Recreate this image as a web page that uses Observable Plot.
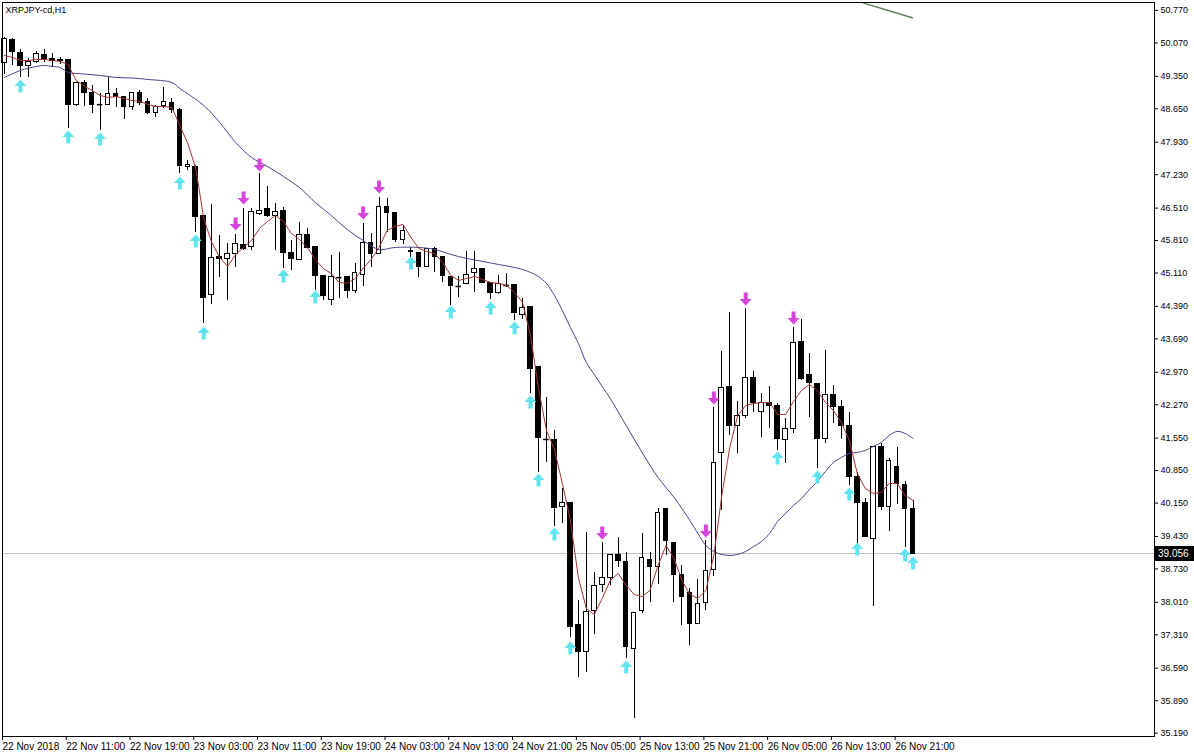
<!DOCTYPE html>
<html>
<head>
<meta charset="utf-8">
<script src="https://cdn.jsdelivr.net/npm/d3@7"></script>
<script src="https://cdn.jsdelivr.net/npm/@observablehq/plot@0.6"></script>
<style>
  html, body { margin: 0; padding: 0; background: #fff; }
  #chart svg { display: block; }
</style>
</head>
<body>
<div id="chart"></div>
<script>
// ---------- data ----------
const symbolName = "XRPJPY-cd,H1";
const currentPrice = 39.056;

const opens = [49.628,50.124,49.843,49.563,49.649,49.800,49.714,49.692,49.692,48.722,
 49.197,49.002,48.744,48.722,48.959,48.895,48.679,48.981,48.787,48.550,
 48.701,48.765,48.614,47.385,47.385,46.329,44.626,45.445,45.402,45.510,
 45.704,45.661,46.372,46.480,46.329,46.437,45.531,45.380,45.919,45.661,
 45.035,44.518,45.014,45.014,44.712,45.057,45.747,45.510,46.523,46.394,
 45.812,45.574,45.531,45.229,45.618,45.445,45.014,44.820,44.863,45.100,
 45.186,44.885,44.669,44.841,44.841,44.195,44.367,43.073,41.521,41.500,
 40.055,40.141,37.511,36.929,37.813,38.373,38.524,39.020,38.869,36.994,
 37.813,38.912,38.761,40.012,39.279,38.589,38.201,37.533,37.985,38.697,
 41.219,42.642,41.801,42.017,42.836,42.103,42.297,42.233,41.500,41.737,
 43.612,42.901,42.707,41.521,42.470,42.211,41.801,40.702,40.141,39.365,
 41.349,40.055,40.917,40.529,40.012];

const highs = [50.188,50.167,49.930,49.736,49.886,49.930,49.843,49.757,49.692,49.218,
 49.261,49.153,48.981,49.326,49.089,48.895,48.981,49.046,48.873,48.722,
 49.110,48.873,48.658,47.536,47.429,46.329,46.588,45.919,45.747,45.941,
 46.502,46.502,47.256,46.976,46.609,46.523,45.812,46.200,46.070,45.661,
 45.035,45.488,45.553,45.014,45.316,46.178,45.963,46.739,46.717,46.394,
 46.135,45.661,45.531,45.639,45.661,45.445,45.035,45.035,45.574,45.574,
 45.208,44.885,45.057,45.100,44.841,44.561,44.367,43.073,42.427,41.715,
 40.465,40.141,38.050,39.516,38.654,39.300,39.020,39.408,39.085,37.770,
 39.495,39.085,40.034,40.012,39.300,38.805,38.309,38.503,39.344,42.211,
 43.418,44.259,42.340,44.346,42.987,42.513,42.664,42.297,41.974,43.936,
 44.108,43.375,42.707,43.440,42.685,42.362,42.103,40.810,40.249,41.349,
 41.435,41.112,41.349,40.616,40.206];

const lows = [49.391,49.585,49.326,49.326,49.628,49.649,49.541,49.606,48.226,48.701,
 48.701,48.550,48.183,48.722,48.679,48.420,48.614,48.722,48.528,48.463,
 48.658,48.550,47.256,47.321,45.984,44.022,44.432,45.014,44.518,45.229,
 45.596,45.596,46.351,46.307,45.596,45.208,45.165,45.380,45.639,44.734,
 44.518,44.410,44.561,44.561,44.669,44.820,45.229,45.510,45.984,45.768,
 45.725,45.445,45.014,45.229,45.122,44.906,44.410,44.583,44.863,44.690,
 44.885,44.540,44.647,44.798,44.087,44.108,42.513,40.810,41.025,39.645,
 39.710,37.252,36.390,36.498,37.317,38.222,38.373,38.761,36.800,35.506,
 37.770,38.007,38.395,39.020,38.007,37.511,37.080,37.533,37.834,38.567,
 39.990,41.607,41.219,41.974,42.103,41.564,41.758,41.284,41.004,41.651,
 42.793,41.995,40.896,41.435,41.866,41.521,40.529,39.257,39.408,37.921,
 39.990,39.538,40.120,39.193,39.050];

const closes = [50.145,49.865,49.563,49.649,49.822,49.714,49.677,49.671,48.722,49.197,
 48.981,48.722,48.740,48.959,48.895,48.679,48.981,48.765,48.550,48.679,
 48.787,48.614,47.407,47.429,46.307,44.561,45.424,45.402,45.510,45.725,
 45.618,46.415,46.437,46.329,46.415,45.531,45.402,45.919,45.639,45.035,
 44.604,45.014,45.010,44.712,45.100,45.747,45.510,46.523,46.394,45.812,
 46.006,45.553,45.229,45.618,45.445,45.035,44.820,44.820,45.057,45.186,
 44.885,44.669,44.863,44.841,44.238,44.346,43.030,41.543,41.521,40.034,
 40.141,37.468,36.929,37.791,38.352,38.524,39.020,38.891,37.037,37.770,
 38.956,38.761,39.926,39.322,38.589,38.115,37.533,37.964,38.675,41.004,
 42.621,41.801,42.017,42.836,42.297,42.297,42.233,41.521,41.737,43.591,
 42.815,42.729,41.521,42.470,42.211,41.801,40.702,40.141,39.408,41.349,
 40.055,41.047,40.551,40.012,39.056];

// fast moving average (red), one value per bar
const fastMA = [49.800,49.757,49.692,49.692,49.714,49.714,49.692,49.671,49.600,49.261,
 49.140,49.046,48.938,48.895,48.916,48.873,48.830,48.808,48.744,48.701,
 48.701,48.679,48.291,47.903,47.364,46.286,45.768,45.445,45.251,45.510,
 45.661,45.812,46.070,46.221,46.351,46.221,45.963,45.833,45.661,45.402,
 45.208,45.100,44.906,44.885,44.992,45.208,45.402,45.661,46.027,46.113,
 46.157,45.876,45.639,45.574,45.531,45.337,45.057,44.949,44.992,45.035,
 44.971,44.906,44.885,44.841,44.690,44.475,43.763,42.621,41.715,41.305,
 40.573,39.775,38.546,37.878,37.748,38.093,38.481,38.632,38.373,38.179,
 38.136,38.265,38.805,39.236,38.956,38.481,38.179,38.093,38.265,39.020,
 40.314,41.349,42.039,42.254,42.297,42.319,42.319,42.060,42.060,42.340,
 42.577,42.707,42.577,42.319,42.146,41.888,41.500,40.788,40.465,40.357,
 40.379,40.573,40.573,40.314,40.206];

// slow moving average (navy), read at these bars
const slowBars = [0,2,4,5,6,7,8,10,12,14,16,18,21,22,25,27,29,31,33,35,37,39,41,43,45,47,49,52,54,56,
 58,60,62,64,65,66,67,68,69,70,71,72,73,74,75,76,78,80,82,84,86,87,88,89,90,91,92,93,94,95,
 96,97,98,99,100,101,102,103,104,105,106,107,108,109,110,111,112,113,114];
const slowMA = [49.326,49.477,49.563,49.585,49.563,49.541,49.434,49.401,49.369,49.326,49.315,49.283,49.218,49.089,48.722,48.356,47.925,47.601,47.407,47.192,
 46.954,46.631,46.351,46.049,45.812,45.618,45.661,45.661,45.618,45.510,45.424,45.359,45.294,45.229,45.186,45.122,45.035,44.885,44.626,44.302,
 43.936,43.591,43.181,42.922,42.664,42.405,41.823,41.241,40.702,40.271,39.775,39.495,39.236,39.106,39.042,39.020,39.042,39.106,39.214,39.322,
 39.495,39.753,39.926,40.098,40.249,40.443,40.616,40.831,41.025,41.133,41.219,41.241,41.284,41.370,41.457,41.607,41.694,41.651,41.543];

// signal arrows
const upArrowBars = [2,8,12,22,24,25,35,39,51,56,61,64,66,67,69,71,78,97,102,106,107,113,114];
const upArrowPrices = [49.132,48.032,47.989,47.040,45.790,43.806,45.035,44.583,45.316,44.259,44.346,43.914,42.319,40.637,39.473,37.015,36.605,41.112,40.702,40.335,39.149,39.020,38.848];
const downArrowBars = [29,30,32,45,47,75,88,89,93,99];
const downArrowPrices = [46.178,46.739,47.450,46.415,46.976,39.516,39.559,42.427,44.561,44.151];

// trend line partly visible at the top
const trendBars = [107.6, 113.9];
const trendPrices = [50.940, 50.613];

// axes
const priceTicks = [50.770,50.070,49.350,48.650,47.930,47.230,46.510,45.810,45.110,44.390,43.690,42.970,42.270,41.550,40.850,40.150,39.430,38.730,38.010,37.310,36.590,35.890,35.190];
const timeTickBars = [0,8,16,24,32,40,48,56,64,72,80,88,96,104,112];
const timeTickLabels = ["22 Nov 2018","22 Nov 11:00","22 Nov 19:00","23 Nov 03:00","23 Nov 11:00","23 Nov 19:00","24 Nov 03:00","24 Nov 13:00","24 Nov 21:00","25 Nov 05:00","25 Nov 13:00","25 Nov 21:00","26 Nov 05:00","26 Nov 13:00","26 Nov 21:00"];

// visible window
const xDomain = [-0.251, 144.29];
const yDomain = [35.117, 50.9425];

// ---------- build ----------
const candles = opens.map((o, i) => ({i, o, h: highs[i], l: lows[i], c: closes[i]}));
const bodies = candles.filter(d => Math.abs(d.c - d.o) > 0.006);
const dojis = candles.filter(d => Math.abs(d.c - d.o) <= 0.006);
const fast = fastMA.map((v, i) => ({i, v}));
const slow = slowBars.map((b, k) => ({i: b, v: slowMA[k]}));
const ups = upArrowBars.map((b, k) => ({i: b, v: upArrowPrices[k]}));
const downs = downArrowBars.map((b, k) => ({i: b, v: downArrowPrices[k]}));
const trend = trendBars.map((b, k) => ({i: b, v: trendPrices[k]}));
const labelByBar = new Map(timeTickBars.map((b, k) => [b, timeTickLabels[k]]));

const upArrow = {
  draw(ctx, size) {
    const s = Math.sqrt(size / Math.PI) / 6;
    ctx.moveTo(0, -7 * s);
    ctx.lineTo(6 * s, -0.5 * s);
    ctx.lineTo(2 * s, -0.5 * s);
    ctx.lineTo(2 * s, 6 * s);
    ctx.lineTo(-2 * s, 6 * s);
    ctx.lineTo(-2 * s, -0.5 * s);
    ctx.lineTo(-6 * s, -0.5 * s);
    ctx.closePath();
  }
};
const downArrow = {
  draw(ctx, size) {
    const s = Math.sqrt(size / Math.PI) / 6;
    ctx.moveTo(0, 7 * s);
    ctx.lineTo(6 * s, 0.5 * s);
    ctx.lineTo(2 * s, 0.5 * s);
    ctx.lineTo(2 * s, -6 * s);
    ctx.lineTo(-2 * s, -6 * s);
    ctx.lineTo(-2 * s, 0.5 * s);
    ctx.lineTo(-6 * s, 0.5 * s);
    ctx.closePath();
  }
};

function priceTag(index, scales, values, dimensions) {
  const y = scales.y(currentPrice);
  const x0 = dimensions.width - dimensions.marginRight;
  const g = d3.create("svg:g");
  g.append("rect")
    .attr("x", x0 + 1).attr("y", Math.round(y) - 7)
    .attr("width", dimensions.marginRight - 1).attr("height", 15)
    .attr("fill", "#000");
  g.append("text")
    .attr("x", x0 + 4).attr("y", Math.round(y) + 0.5).attr("dy", "0.35em")
    .attr("text-anchor", "start")
    .attr("fill", "#fff").attr("font-size", 10)
    .text(currentPrice.toFixed(3));
  return g.node();
}

const chart = Plot.plot({
  width: 1194,
  height: 756,
  marginTop: 2,
  marginLeft: 2,
  marginRight: 40,
  marginBottom: 20,
  style: {fontFamily: "'Liberation Sans', Arial, sans-serif", fontSize: "10px", color: "#000", background: "#fff", overflow: "visible"},
  x: {domain: xDomain, label: null},
  y: {domain: yDomain, label: null},
  marks: [
    Plot.ruleY([currentPrice], {stroke: "#c0c0c0", strokeWidth: 1, shapeRendering: "crispEdges"}),
    Plot.line(trend, {x: "i", y: "v", stroke: "#5d7d5d", strokeWidth: 1.5}),
    Plot.ruleX(candles, {x: "i", y1: "l", y2: "h", stroke: "#000", strokeWidth: 1, shapeRendering: "crispEdges"}),
    Plot.rect(bodies, {
      x1: d => d.i - 0.29, x2: d => d.i + 0.29, y1: "o", y2: "c",
      fill: d => d.c > d.o ? "#fff" : "#000", stroke: "#000", strokeWidth: 1, shapeRendering: "crispEdges"
    }),
    Plot.ruleY(dojis, {y: "c", x1: d => d.i - 0.35, x2: d => d.i + 0.35, stroke: "#000", strokeWidth: 1.5}),
    Plot.line(slow, {x: "i", y: "v", stroke: "#464690", strokeWidth: 1, curve: "catmull-rom"}),
    Plot.line(fast, {x: "i", y: "v", stroke: "#a83232", strokeWidth: 1}),
    Plot.dot(ups, {x: "i", y: "v", r: 6, symbol: upArrow, fill: "#62e4ee", stroke: "none"}),
    Plot.dot(downs, {x: "i", y: "v", r: 6, symbol: downArrow, fill: "#d645dc", stroke: "none"}),
    Plot.axisY(priceTicks, {anchor: "right", tickSize: 3, tickPadding: 3, tickFormat: d3.format(".3f"), fontSize: 9, label: null}),
    Plot.axisX(timeTickBars, {anchor: "bottom", tickSize: 4, tickPadding: 2, tickFormat: d => labelByBar.get(d), textAnchor: "start", dx: -2, fontSize: 10, label: null}),
    Plot.text([symbolName], {frameAnchor: "top-left", text: d => d, dx: 3, dy: 4, fontSize: 9, textAnchor: "start", lineAnchor: "top"}),
    Plot.frame({stroke: "#000", strokeWidth: 1, shapeRendering: "crispEdges"}),
    priceTag
  ]
});

document.getElementById("chart").appendChild(chart);
</script>
</body>
</html>
